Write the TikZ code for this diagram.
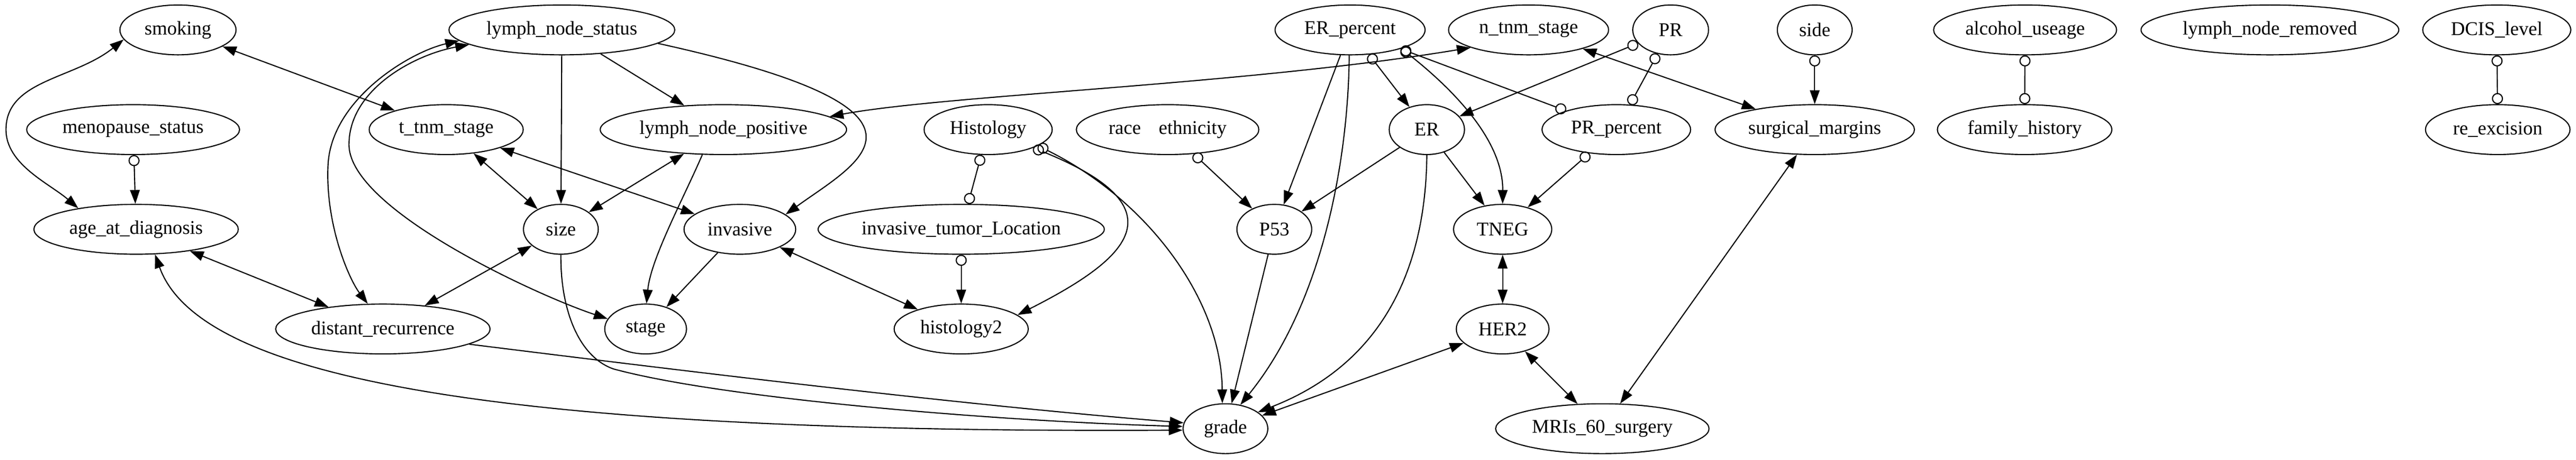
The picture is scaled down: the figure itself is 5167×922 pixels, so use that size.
\documentclass[tikz,border=0pt]{standalone}
\usepackage{fontspec}
\setmainfont{Liberation Serif}
\usetikzlibrary{shapes.geometric,arrows.meta}
\tikzset{
  nd/.style={draw, ellipse, line width=0.8pt, minimum height=36pt,
    minimum width={#1*0.36pt}, inner sep=0pt, font=\fontsize{14}{16}\selectfont},
  ed/.style={line width=0.8pt},
  aa/.style={ed, -{Triangle[length=10pt,width=7pt]}},
  bb/.style={ed, {Triangle[length=10pt,width=7pt]}-{Triangle[length=10pt,width=7pt]}},
  ca/.style={ed, {Circle[open,length=8pt,width=8pt]}-{Triangle[length=10pt,width=7pt]}},
  cc/.style={ed, {Circle[open,length=8pt,width=8pt]}-{Circle[open,length=8pt,width=8pt]}}
}
\begin{document}
\begin{tikzpicture}[x=0.36pt, y=-0.36pt]
\path[use as bounding box, fill=white] (0,0) rectangle (5167,922);
% row 1
\node[nd=233] (smoking) at (357,60) {smoking};
\node[nd=453] (lns) at (1127,60) {lymph\_node\_status};
\node[nd=301] (ERp) at (2708,60) {ER\_percent};
\node[nd=321] (ntnm) at (3066,60) {n\_tnm\_stage};
\node[nd=152] (PR) at (3351,60) {PR};
\node[nd=150] (side) at (3640,60) {side};
\node[nd=367] (alcohol) at (4062,60) {alcohol\_useage};
\node[nd=517] (lnr) at (4553,60) {lymph\_node\_removed};
\node[nd=297] (DCIS) at (5008,60) {DCIS\_level};
% row 2
\node[nd=427] (meno) at (267,260) {menopause\_status};
\node[nd=309] (ttnm) at (895,260) {t\_tnm\_stage};
\node[nd=494] (lnp) at (1451,260) {lymph\_node\_positive};
\node[nd=257] (Histology) at (1982,260) {Histology};
\node[nd=366] (race) at (2342,260) {race\hspace{12.9pt}ethnicity};
\node[nd=151] (ER) at (2862,260) {ER};
\node[nd=298] (PRp) at (3242,260) {PR\_percent};
\node[nd=400] (sm) at (3640,260) {surgical\_margins};
\node[nd=350] (family) at (4061,260) {family\_history};
\node[nd=290] (reexc) at (5010,260) {re\_excision};
% row 3
\node[nd=410] (age) at (273,460) {age\_at\_diagnosis};
\node[nd=150] (size) at (1125,460) {size};
\node[nd=224] (invasive) at (1484,460) {invasive};
\node[nd=574] (itl) at (1928,460) {invasive\_tumor\_Location};
\node[nd=150] (P53) at (2556,460) {P53};
\node[nd=197] (TNEG) at (3014,460) {TNEG};
% row 4
\node[nd=430] (dr) at (768,660) {distant\_recurrence};
\node[nd=164] (stage) at (1295,660) {stage};
\node[nd=269] (histology2) at (1928,660) {histology2};
\node[nd=186] (HER2) at (3014,660) {HER2};
% row 5
\node[nd=170] (grade) at (2458,860) {grade};
\node[nd=428] (MRIs) at (3214,860) {MRIs\_60\_surgery};

% curved edges
\draw[bb] (smoking.190) .. controls (149,159) and (12,160) .. (12,260) .. controls (12,330) and (99,368) .. (age.160);
\draw[bb] (lns.186) .. controls (820,105) and (665,200) .. (658,330) .. controls (652,450) and (700,560) .. (dr.121);
\draw[bb] (lns.189) .. controls (830,110) and (700,180) .. (700,290) .. controls (700,420) and (1078,593) .. (stage.165);
\draw[aa] (lns.352) .. controls (1938,223) and (1721,325) .. (invasive.18);
\draw[aa] (lnp.230) .. controls (1370,400) and (1305,520) .. (stage.88);
\draw[ca] (Histology.338) .. controls (2378,420) and (2258,522) .. (histology2.14);
\draw[ca] (Histology.342) .. controls (2300,400) and (2450,600) .. (grade.97);
\draw[bb] (lnp.7) .. controls (1900,190) and (2500,170) .. (ntnm.197);
\draw[aa] (size.270) .. controls (1124,620) and (1160,715) .. (1230,740) .. controls (1450,800) and (2000,845) .. (grade.177);
\draw[aa] (dr.350) .. controls (1300,735) and (1900,810) .. (grade.172);
\draw[bb] (age.307) .. controls (400,760) and (1000,870) .. (grade.182);
\draw[aa] (ERp.268) .. controls (2705,300) and (2660,600) .. (grade.58);
\draw[ca] (ERp.340) .. controls (2890,160) and (3015,270) .. (TNEG.90);
\draw[aa] (ER.270) .. controls (2860,500) and (2800,720) .. (grade.27);

% straight edges
\draw[bb] (smoking) -- (ttnm);
\draw[ca] (meno) -- (age);
\draw[aa] (lns) -- (size);
\draw[aa] (lns) -- (lnp);
\draw[bb] (ttnm) -- (size);
\draw[bb] (ttnm) -- (invasive);
\draw[bb] (lnp) -- (size);
\draw[aa] (invasive) -- (stage);
\draw[bb] (invasive) -- (histology2);
\draw[ca] (itl) -- (histology2);
\draw[cc] (Histology) -- (itl);
\draw[ca] (race) -- (P53);
\draw[bb] (age) -- (dr);
\draw[bb] (size) -- (dr);
\draw[aa] (ERp) -- (P53);
\draw[ca] (ERp) -- (ER);
\draw[cc] (ERp) -- (PRp);
\draw[ca] (PR) -- (ER);
\draw[cc] (PR) -- (PRp);
\draw[bb] (ntnm) -- (sm);
\draw[ca] (side) -- (sm);
\draw[aa] (ER) -- (P53);
\draw[aa] (ER) -- (TNEG);
\draw[ca] (PRp) -- (TNEG);
\draw[aa] (P53) -- (grade);
\draw[bb] (TNEG) -- (HER2);
\draw[bb] (HER2) -- (grade);
\draw[bb] (HER2) -- (MRIs);
\draw[bb] (sm) -- (MRIs);
\draw[cc] (alcohol) -- (family);
\draw[cc] (DCIS) -- (reexc);
\end{tikzpicture}
\end{document}
